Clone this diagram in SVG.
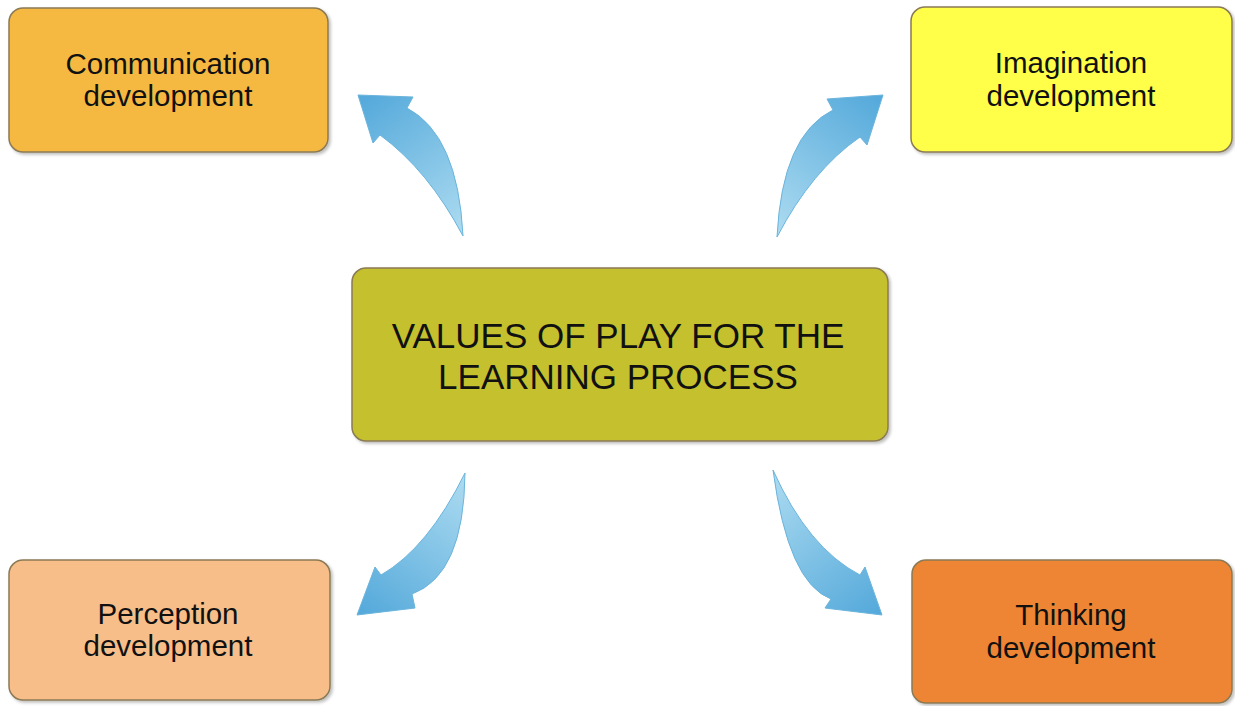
<svg xmlns="http://www.w3.org/2000/svg" width="1235" height="706" viewBox="0 0 1235 706">
<defs>
<style>
.box{stroke:#8a7a55;stroke-width:1.5}
.lbl{font-family:"Liberation Sans",Arial,sans-serif;font-size:29.5px;fill:#111;text-anchor:middle}
.main{font-family:"Liberation Sans",Arial,sans-serif;font-size:35px;fill:#111;text-anchor:middle}
.arr{stroke:#6ab4dc;stroke-width:1;stroke-linejoin:round}
</style>
<filter id="sh" x="-5%" y="-5%" width="112%" height="115%">
<feDropShadow dx="2" dy="2" stdDeviation="1.5" flood-color="#000" flood-opacity="0.25"/>
</filter>
<linearGradient id="gUL" x1="462" y1="236" x2="365" y2="100" gradientUnits="userSpaceOnUse"><stop offset="0" stop-color="#aedcf1"/><stop offset="1" stop-color="#56aadb"/></linearGradient>
<linearGradient id="gUR" x1="777" y1="237" x2="878" y2="100" gradientUnits="userSpaceOnUse"><stop offset="0" stop-color="#aedcf1"/><stop offset="1" stop-color="#56aadb"/></linearGradient>
<linearGradient id="gLL" x1="465" y1="473" x2="362" y2="610" gradientUnits="userSpaceOnUse"><stop offset="0" stop-color="#aedcf1"/><stop offset="1" stop-color="#56aadb"/></linearGradient>
<linearGradient id="gLR" x1="773" y1="470" x2="878" y2="610" gradientUnits="userSpaceOnUse"><stop offset="0" stop-color="#aedcf1"/><stop offset="1" stop-color="#56aadb"/></linearGradient>
</defs>
<rect width="1235" height="706" fill="#ffffff"/>
<g id="connectors">
<path class="arr" fill="url(#gUL)" d="M463,236 Q458,135 407,108 L413,97 L358,95 L373,143 L380,135 Q428,170 463,236 Z"/>
<path class="arr" fill="url(#gUR)" d="M777,237 Q782,135 833,110 L827,99 L883,95 L867,145 L860,137 Q812,170 777,237 Z"/>
<path class="arr" fill="url(#gLL)" d="M465,473 Q464,575 412,594 L415,608 L357,615 L375,567 L381,575 Q428,548 465,473 Z"/>
<path class="arr" fill="url(#gLR)" d="M773,470 Q788,583 831,599 L825,608 L882,615 L865,567 L860,575 Q808,548 773,470 Z"/>
</g>
<g id="center">
<rect class="box" filter="url(#sh)" x="352" y="268" width="536" height="173" rx="14" fill="#c4c02e"/>
<text class="main" x="618" y="348">VALUES OF PLAY FOR THE</text>
<text class="main" x="618" y="389">LEARNING PROCESS</text>
</g>
<g id="communication">
<rect class="box" filter="url(#sh)" x="9" y="8" width="319" height="144" rx="14" fill="#f5b942"/>
<text class="lbl" x="168" y="74">Communication</text>
<text class="lbl" x="168" y="106">development</text>
</g>
<g id="imagination">
<rect class="box" filter="url(#sh)" x="911" y="7" width="321" height="145" rx="14" fill="#ffff4a"/>
<text class="lbl" x="1071" y="73">Imagination</text>
<text class="lbl" x="1071" y="106">development</text>
</g>
<g id="perception">
<rect class="box" filter="url(#sh)" x="9" y="560" width="321" height="140" rx="14" fill="#f7be8a"/>
<text class="lbl" x="168" y="624">Perception</text>
<text class="lbl" x="168" y="656">development</text>
</g>
<g id="thinking">
<rect class="box" filter="url(#sh)" x="912" y="560" width="320" height="143" rx="14" fill="#ee8535"/>
<text class="lbl" x="1071" y="625">Thinking</text>
<text class="lbl" x="1071" y="658">development</text>
</g>
</svg>
